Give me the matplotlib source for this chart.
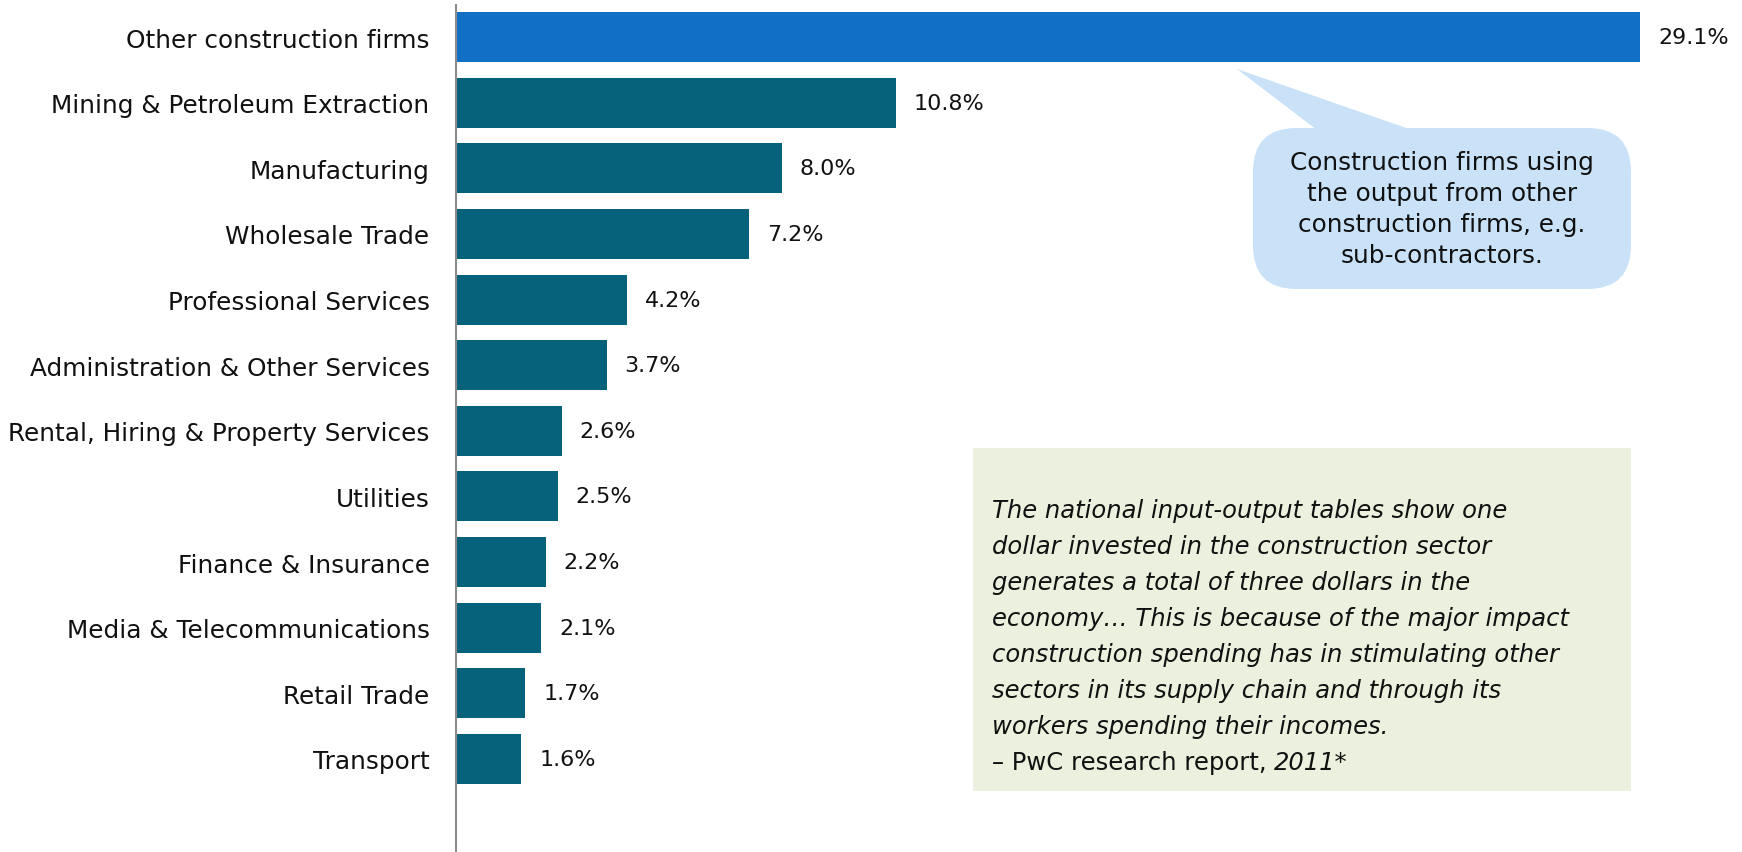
import matplotlib.pyplot as plt
from matplotlib.patches import FancyBboxPatch, Polygon

# ------------------- data -------------------
sectors = [
    "Other construction firms",
    "Mining & Petroleum Extraction",
    "Manufacturing",
    "Wholesale Trade",
    "Professional Services",
    "Administration & Other Services",
    "Rental, Hiring & Property Services",
    "Utilities",
    "Finance & Insurance",
    "Media & Telecommunications",
    "Retail Trade",
    "Transport",
]
shares = [29.1, 10.8, 8.0, 7.2, 4.2, 3.7, 2.6, 2.5, 2.2, 2.1, 1.7, 1.6]

callout_text = ("Construction firms using\nthe output from other\n"
                "construction firms, e.g.\nsub-contractors.")
quote_lines = [
    "The national input-output tables show one",
    "dollar invested in the construction sector",
    "generates a total of three dollars in the",
    "economy\u2026 This is because of the major impact",
    "construction spending has in stimulating other",
    "sectors in its supply chain and through its",
    "workers spending their incomes.",
]

BLUE = "#1170c4"
TEAL = "#05627a"
W, H = 1742, 853

fig = plt.figure(figsize=(W / 100, H / 100), dpi=100)
ax = fig.add_axes([456 / W, 0, (W - 456) / W, (H - 6) / H])

colors = [BLUE] + [TEAL] * (len(shares) - 1)
y = list(range(len(sectors)))
ax.barh(y, shares, height=0.76, color=colors)
ax.set_xlim(0, 31.6)
ax.set_ylim(12.42, -0.49)

for yi, v in zip(y, shares):
    ax.annotate(f"{v:.1f}%", (v, yi), xytext=(13, 0), textcoords="offset points",
                va="center", ha="left", fontsize=16, color="#111111")

ax.set_yticks(y)
ax.set_yticklabels(sectors, fontsize=17.8, color="#111111")
ax.tick_params(axis="y", length=0, pad=19)
ax.set_xticks([])
for s in ["top", "right", "bottom"]:
    ax.spines[s].set_visible(False)
ax.spines["left"].set_color("#8c8c8c")
ax.spines["left"].set_linewidth(1.5)

# ------------------- callout -------------------
def px(x, yy):
    return (x / W, 1 - yy / H)

x0, y0 = px(1253, 290)
x1, y1 = px(1631, 129)
box = FancyBboxPatch((x0, y0), x1 - x0, y1 - y0,
                     boxstyle="round,pad=0,rounding_size=0.025",
                     transform=fig.transFigure, facecolor="#c9e2f8",
                     edgecolor="none", mutation_aspect=W / H)
fig.patches.append(box)
tail = Polygon([px(1237, 70), px(1317, 131), px(1412, 131)], closed=True,
               transform=fig.transFigure, facecolor="#c9e2f8", edgecolor="none")
fig.patches.append(tail)
fig.text((x0 + x1) / 2, (y0 + y1) / 2, callout_text, ha="center", va="center",
         fontsize=17.8, linespacing=1.38, color="#111111")

# ------------------- quote box -------------------
qx0, qy0 = px(973, 792)
qx1, qy1 = px(1631, 449)
fig.patches.append(plt.Rectangle((qx0, qy0), qx1 - qx0, qy1 - qy0,
                                 transform=fig.transFigure,
                                 facecolor="#ebf1de", edgecolor="none"))
for i, line in enumerate(quote_lines):
    fig.text(992 / W, 1 - (511 + 36 * i) / H, line, ha="left", va="center",
             fontsize=17.5, style="italic", color="#111111")
last = fig.text(992 / W, 1 - (511 + 36 * 7) / H, "\u2013 PwC research report, ",
                ha="left", va="center", fontsize=17.5, color="#111111")
fig.canvas.draw()
bb = last.get_window_extent()
fig.text(bb.x1 / W, 1 - (511 + 36 * 7) / H, "2011*", ha="left", va="center",
         fontsize=17.5, style="italic", color="#111111")

fig.savefig("out.png", dpi=100)
